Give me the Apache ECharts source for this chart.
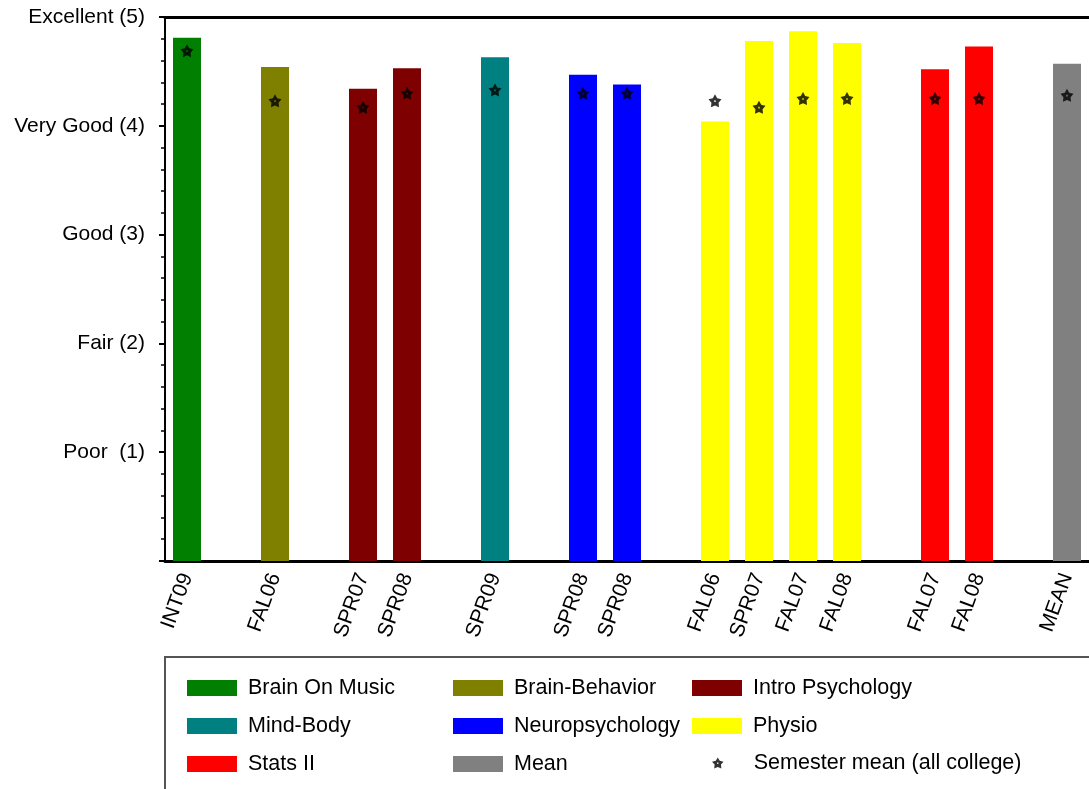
<!DOCTYPE html>
<html>
<head>
<meta charset="utf-8">
<title>Course ratings</title>
<script src="https://cdn.jsdelivr.net/npm/echarts@6/dist/echarts.min.js"></script>
<style>
    html, body { margin: 0; padding: 0; background: #fff; }
    #main { width: 1089px; height: 789px; }
</style>
</head>
<body>
<div id="main"></div>
<script>
// slots along the x axis, '' = spacer between courses
var categories = ['INT09', '', 'FAL06', '', 'SPR07', 'SPR08', '', 'SPR09', '', 'SPR08', 'SPR08', '',
    'FAL06', 'SPR07', 'FAL07', 'FAL08', '', 'FAL07', 'FAL08', '', 'MEAN'];
var slotCourse = ['Brain On Music', null, 'Brain-Behavior', null, 'Intro Psychology', 'Intro Psychology', null,
    'Mind-Body', null, 'Neuropsychology', 'Neuropsychology', null,
    'Physio', 'Physio', 'Physio', 'Physio', null, 'Stats II', 'Stats II', null, 'Mean'];
var ratings = [4.81, null, 4.54, null, 4.34, 4.53, null, 4.63, null, 4.47, 4.38, null,
    4.04, 4.78, 4.87, 4.76, null, 4.52, 4.73, null, 4.57];
var semesterMeans = [4.69, null, 4.23, null, 4.17, 4.30, null, 4.33, null, 4.30, 4.30, null,
    4.23, 4.17, 4.25, 4.25, null, 4.25, 4.25, null, 4.28];
var courseNames = ['Brain On Music', 'Brain-Behavior', 'Intro Psychology', 'Mind-Body',
    'Neuropsychology', 'Physio', 'Stats II', 'Mean'];
var courseColors = ['#007f00', '#808000', '#7f0000', '#008080', '#0000ff', '#ffff00', '#ff0000', '#808080'];
var yTickLabels = ['', 'Poor  (1)', 'Fair (2)', 'Good (3)', 'Very Good (4)', 'Excellent (5)'];
var meanName = 'Semester mean (all college)';

var FONT = 'Liberation Sans, Arial, sans-serif';
// fat star with a small hole in the middle
var STAR = 'path://M10 0 L13.23 5.55 L19.51 6.91 L15.23 11.70 L15.88 18.09 L10 15.5 L4.12 18.09 ' +
    'L4.77 11.70 L0.49 6.91 L6.77 5.55 Z M9 8.4 L9 10.8 L11 10.8 L11 8.4 Z';

var chart = echarts.init(document.getElementById('main'));

var series = courseNames.map(function (name, i) {
    return {
        name: name,
        type: 'bar',
        stack: 'rating',
        barWidth: 28,
        itemStyle: { color: courseColors[i] },
        data: ratings.map(function (v, k) {
            return slotCourse[k] === name ? v : '-';
        })
    };
});
series.push({
    name: meanName,
    type: 'scatter',
    symbol: STAR,
    symbolSize: 13,
    itemStyle: { color: '#000' },
    z: 5,
    data: semesterMeans.map(function (v) { return v === null ? '-' : v; })
});

var legendText = { fontFamily: FONT, fontSize: 21.5, color: '#000', padding: [0, 0, 0, 6] };

function legendCol(left, names) {
    return {
        orient: 'vertical',
        left: left,
        top: 677,
        padding: 0,
        height: 120,
        itemWidth: 50,
        itemHeight: 16,
        itemGap: 16,
        icon: 'rect',
        selectedMode: false,
        textStyle: legendText,
        data: names
    };
}

var option = {
    backgroundColor: '#fff',
    animation: false,
    grid: { left: 165, top: 17, right: -10, bottom: 228 },
    legend: [
        legendCol(187, ['Brain On Music', 'Mind-Body', 'Stats II']),
        legendCol(453, ['Brain-Behavior', 'Neuropsychology', 'Mean']),
        legendCol(692, ['Intro Psychology', 'Physio']),
        {
            // star icon is drawn square, so shift to line up with the column
            left: 712,
            top: 752,
            padding: 0,
            itemWidth: 50,
            itemHeight: 11,
            selectedMode: false,
            textStyle: legendText,
            data: [{ name: meanName, icon: STAR }]
        }
    ],
    graphic: [{
        type: 'rect',
        shape: { x: 165, y: 657, width: 1000, height: 200 },
        style: { fill: 'none', stroke: '#555', lineWidth: 2 },
        silent: true
    }],
    xAxis: [{
        type: 'category',
        data: categories,
        axisLine: { lineStyle: { color: '#000', width: 3 } },
        axisTick: { show: false },
        axisLabel: { interval: 0, rotate: 70, margin: 13, fontFamily: FONT, fontSize: 21, color: '#000' }
    }, {
        type: 'category',
        position: 'top',
        data: categories,
        axisLine: { lineStyle: { color: '#000', width: 3 } },
        axisTick: { show: false },
        axisLabel: { show: false }
    }],
    yAxis: {
        type: 'value',
        min: 0,
        max: 5,
        interval: 1,
        axisLine: { show: true, lineStyle: { color: '#000', width: 2 } },
        axisTick: { show: true, length: 6, lineStyle: { color: '#000', width: 2 } },
        minorTick: { show: true, splitNumber: 5, length: 4, lineStyle: { color: '#000', width: 1.5 } },
        splitLine: { show: false },
        axisLabel: {
            margin: 20,
            fontFamily: FONT,
            fontSize: 21,
            color: '#000',
            formatter: function (v) { return yTickLabels[Math.round(v)]; }
        }
    },
    series: series
};
chart.setOption(option);
</script>
</body>
</html>
